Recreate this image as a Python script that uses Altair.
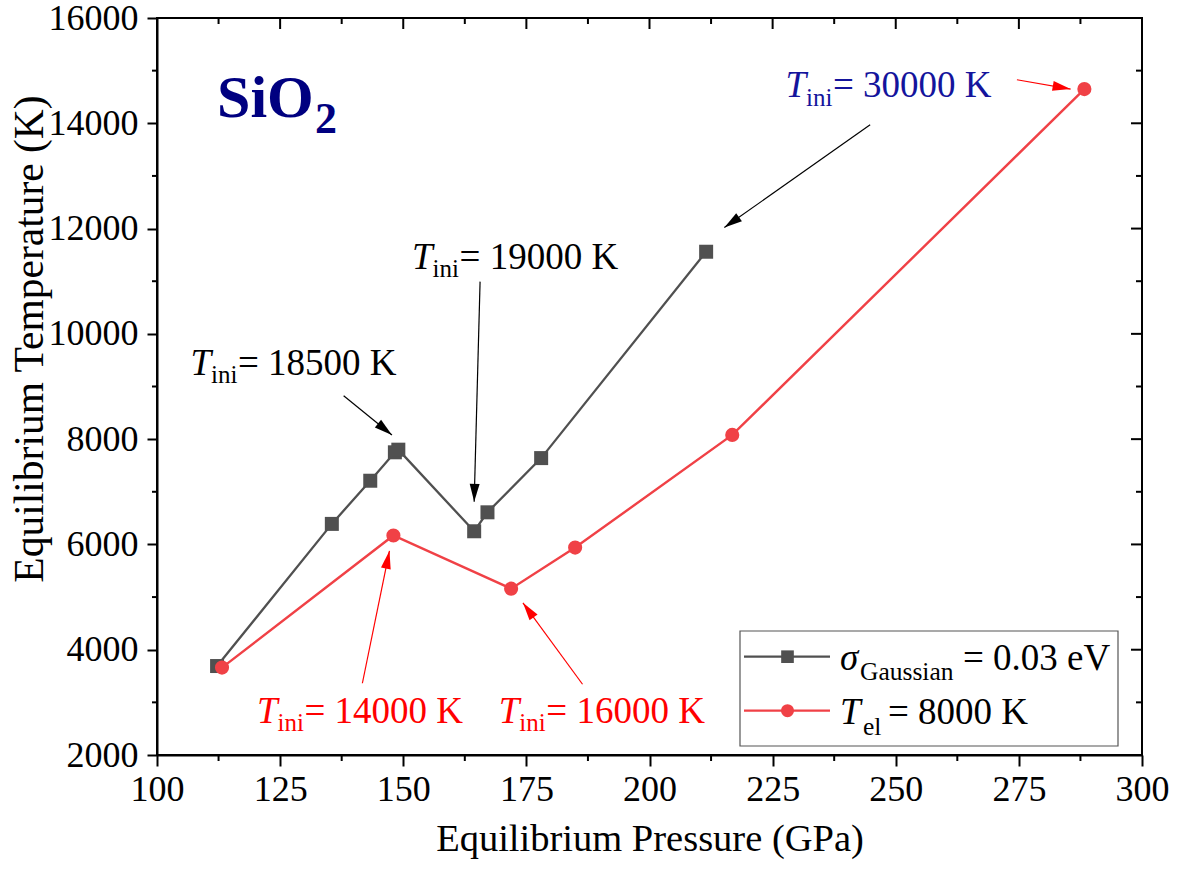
import math
import altair as alt
import pandas as pd

# sigma_Gaussian = 0.03 eV series (equilibrium pressure in GPa, temperature in K)
gauss_p = [112.2, 135.5, 143.3, 148.3, 149.0, 164.4, 167.1, 178.0, 211.5]
gauss_t = [3690, 6390, 7210, 7750, 7800, 6250, 6610, 7640, 11560]

# T_el = 8000 K series
tel_p = [113.2, 148.0, 171.9, 184.9, 216.8, 288.3]
tel_t = [3660, 6170, 5160, 5940, 8080, 14650]

# axis ticks
x_major = [100, 125, 150, 175, 200, 225, 250, 275, 300]
x_minor = [112.5, 137.5, 162.5, 187.5, 212.5, 237.5, 262.5, 287.5]
y_major = [2000, 4000, 6000, 8000, 10000, 12000, 14000, 16000]
y_minor = [3000, 5000, 7000, 9000, 11000, 13000, 15000]

# initial-temperature labels, anchored at their left baseline
ann_rest = ["= 18500 K", "= 19000 K", "= 30000 K", "= 14000 K", "= 16000 K"]
ann_p = [106.8, 151.8, 227.6, 120.3, 169.4]
ann_t = [9219, 11234, 14498, 2608, 2608]
ann_color = ["#000000", "#000000", "#14149C", "#FF0000", "#FF0000"]

# arrows from each label towards its point (tail -> head)
arr_p1 = [137.9, 165.6, 244.8, 274.6, 141.7, 186.4]
arr_t1 = [8825, 10992, 13972, 14827, 3363, 3344]
arr_p2 = [147.7, 164.4, 215.2, 285.5, 147.2, 174.3]
arr_t2 = [8078, 6810, 12019, 14650, 5878, 4890]
arr_color = ["#000000", "#000000", "#000000", "#FF0000", "#FF0000", "#FF0000"]

# compound label anchor
title_p = [112.2]
title_t = [14118]

W, H = 985, 737
X_DOM = [100, 300]
Y_DOM = [2000, 16000]
FONT = "Liberation Serif"
GRAY = "#505050"
RED = "#F04146"

xs = alt.Scale(domain=X_DOM, nice=False, zero=False)
ys = alt.Scale(domain=Y_DOM, nice=False, zero=False)

x_axis = alt.Axis(values=x_major, format="d", title="Equilibrium Pressure (GPa)",
                  tickSize=11, labelPadding=6, titleFontSize=38.5, titleY=95,
                  titleBaseline="alphabetic")
y_axis = alt.Axis(values=y_major, format="d", title="Equilibrium Temperature (K)",
                  tickSize=10, labelPadding=9, titleFontSize=41.5, titleAngle=270,
                  titleX=-115, titleY=320.5, titleBaseline="alphabetic",
                  titleAlign="center")


def X(field):
    return alt.X(field, type="quantitative", scale=xs, axis=x_axis)


def Y(field):
    return alt.Y(field, type="quantitative", scale=ys, axis=y_axis)


gauss_df = pd.DataFrame({"p": gauss_p, "t": gauss_t})
tel_df = pd.DataFrame({"p": tel_p, "t": tel_t})

sx = W / (X_DOM[1] - X_DOM[0])
sy = H / (Y_DOM[1] - Y_DOM[0])
arr_df = pd.DataFrame({"p1": arr_p1, "t1": arr_t1, "p2": arr_p2, "t2": arr_t2,
                       "col": arr_color})
arr_df["ang"] = [
    math.degrees(math.atan2((b - a) * sx, (d - c) * sy)) % 360
    for a, b, c, d in zip(arr_p1, arr_p2, arr_t1, arr_t2)
]

ann_df = pd.DataFrame({"p": ann_p, "t": ann_t, "rest": ann_rest, "col": ann_color})
title_df = pd.DataFrame({"p": title_p, "t": title_t})

# data series
gauss_line = alt.Chart(gauss_df).mark_line(color=GRAY, strokeWidth=2.3).encode(
    x=X("p"), y=Y("t"))
gauss_pts = alt.Chart(gauss_df).mark_point(
    shape="square", filled=True, size=196, color=GRAY, opacity=1).encode(
    x=X("p"), y=Y("t"))
tel_line = alt.Chart(tel_df).mark_line(color=RED, strokeWidth=2.4).encode(
    x=X("p"), y=Y("t"))
tel_pts = alt.Chart(tel_df).mark_point(
    shape="circle", filled=True, size=200, color=RED, opacity=1).encode(
    x=X("p"), y=Y("t"))

# arrows
arrow_shafts = alt.Chart(arr_df).mark_rule(strokeWidth=1.2).encode(
    x=X("p1"), x2="p2", y=Y("t1"), y2="t2",
    color=alt.Color("col:N", scale=None))
arrow_heads = alt.Chart(arr_df).mark_point(
    shape="M0,0L0.55,2L-0.55,2Z", filled=True, size=324, opacity=1,
    strokeWidth=0).encode(
    x=X("p2"), y=Y("t2"), angle=alt.Angle("ang:Q", scale=None),
    color=alt.Color("col:N", scale=None))

# labels: italic T, subscript "ini", then the value
ann_base = alt.Chart(ann_df).encode(x=X("p"), y=Y("t"),
                                    color=alt.Color("col:N", scale=None))
ann_T = ann_base.mark_text(text="T", font=FONT, fontStyle="italic", fontSize=37,
                           align="left", baseline="alphabetic")
ann_sub = ann_base.mark_text(text="ini", font=FONT, fontSize=25, align="left",
                             baseline="alphabetic", dx=20.5, dy=8.5)
ann_val = ann_base.mark_text(font=FONT, fontSize=37, align="left",
                             baseline="alphabetic", dx=47.5).encode(text="rest:N")

sio_main = alt.Chart(title_df).mark_text(
    text="SiO", font=FONT, fontWeight="bold", fontSize=60, color="#000080",
    align="left", baseline="alphabetic").encode(x=X("p"), y=Y("t"))
sio_sub = alt.Chart(title_df).mark_text(
    text="2", font=FONT, fontWeight="bold", fontSize=44, color="#000080",
    align="left", baseline="alphabetic", dx=98, dy=16).encode(x=X("p"), y=Y("t"))

# extra ticks: minor ticks outside, mirrored ticks inside on top and right
xmaj_df = pd.DataFrame({"v": x_major})
xmin_df = pd.DataFrame({"v": x_minor})
ymaj_df = pd.DataFrame({"v": y_major})
ymin_df = pd.DataFrame({"v": y_minor})
tick_style = dict(color="black", strokeWidth=2)
ticks = [
    alt.Chart(xmin_df).mark_rule(**tick_style).encode(
        x=X("v"), y=alt.value(H), y2=alt.value(H + 6)),
    alt.Chart(xmaj_df).mark_rule(**tick_style).encode(
        x=X("v"), y=alt.value(0), y2=alt.value(11)),
    alt.Chart(xmin_df).mark_rule(**tick_style).encode(
        x=X("v"), y=alt.value(0), y2=alt.value(6)),
    alt.Chart(ymin_df).mark_rule(**tick_style).encode(
        y=Y("v"), x=alt.value(0), x2=alt.value(-5)),
    alt.Chart(ymaj_df).mark_rule(**tick_style).encode(
        y=Y("v"), x=alt.value(W), x2=alt.value(W - 11)),
    alt.Chart(ymin_df).mark_rule(**tick_style).encode(
        y=Y("v"), x=alt.value(W), x2=alt.value(W - 6)),
]

# legend box
one = pd.DataFrame({"k": [0]})
leg = [
    alt.Chart(one).mark_rect(fill="white", stroke="#555555", strokeWidth=1.2).encode(
        x=alt.value(583), x2=alt.value(961), y=alt.value(613), y2=alt.value(728)),
    alt.Chart(one).mark_rule(color=GRAY, strokeWidth=2.2).encode(
        x=alt.value(587), x2=alt.value(673), y=alt.value(638.7)),
    alt.Chart(one).mark_point(shape="square", filled=True, size=160, color=GRAY,
                              opacity=1).encode(x=alt.value(630.5), y=alt.value(638.7)),
    alt.Chart(one).mark_rule(color=RED, strokeWidth=2.3).encode(
        x=alt.value(587), x2=alt.value(673), y=alt.value(692.7)),
    alt.Chart(one).mark_point(shape="circle", filled=True, size=170, color=RED,
                              opacity=1).encode(x=alt.value(630.5), y=alt.value(692.7)),
    alt.Chart(one).mark_text(text="σ", font=FONT, fontStyle="italic", fontSize=37,
                             align="left", baseline="alphabetic", color="black").encode(
        x=alt.value(683), y=alt.value(652)),
    alt.Chart(one).mark_text(text="Gaussian", font=FONT, fontSize=25.5, align="left",
                             baseline="alphabetic", color="black").encode(
        x=alt.value(703), y=alt.value(662)),
    alt.Chart(one).mark_text(text="= 0.03 eV", font=FONT, fontSize=37, align="left",
                             baseline="alphabetic", color="black").encode(
        x=alt.value(806), y=alt.value(652)),
    alt.Chart(one).mark_text(text="T", font=FONT, fontStyle="italic", fontSize=37,
                             align="left", baseline="alphabetic", color="black").encode(
        x=alt.value(683), y=alt.value(706)),
    alt.Chart(one).mark_text(text="el", font=FONT, fontSize=25.5, align="left",
                             baseline="alphabetic", color="black").encode(
        x=alt.value(706), y=alt.value(717)),
    alt.Chart(one).mark_text(text="= 8000 K", font=FONT, fontSize=37, align="left",
                             baseline="alphabetic", color="black").encode(
        x=alt.value(731), y=alt.value(706)),
]

chart = alt.layer(
    gauss_line, gauss_pts, tel_line, tel_pts,
    arrow_shafts, arrow_heads,
    ann_T, ann_sub, ann_val, sio_main, sio_sub,
    *ticks, *leg,
).properties(
    width=W, height=H,
    autosize=alt.AutoSizeParams(type="none"),
    padding={"left": 157, "top": 18, "right": 38, "bottom": 114},
    background="white",
).configure_view(
    stroke="black", strokeWidth=2
).configure_axis(
    grid=False, labelFlush=False, domainColor="black", domainWidth=2,
    tickColor="black", tickWidth=2, labelFont=FONT, labelFontSize=36,
    labelColor="black", titleFont=FONT, titleFontWeight="normal", titleColor="black",
)

chart.save("out.html", embed_options={"renderer": "svg", "actions": False})
